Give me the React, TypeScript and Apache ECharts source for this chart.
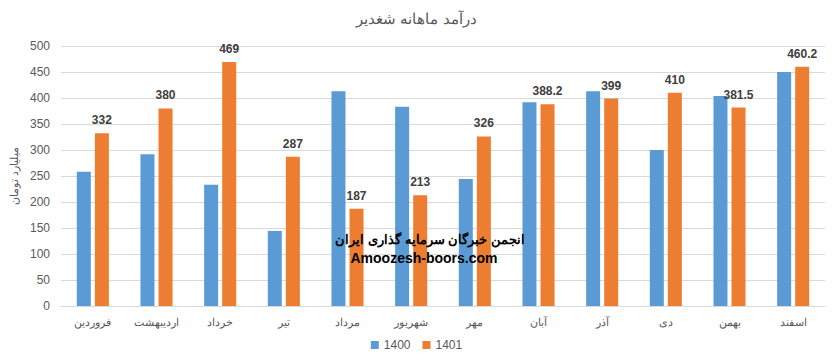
import React, { useEffect, useRef } from "react";
import * as echarts from "echarts";

const months = ["فروردین", "اردیبهشت", "خرداد", "تیر", "مرداد", "شهریور", "مهر", "آبان", "آذر", "دی", "بهمن", "اسفند"];
const values1400 = [258, 292, 233, 144, 413, 383, 244, 392, 413, 300, 404, 450];
const values1401 = [332, 380, 469, 287, 187, 213, 326, 388.2, 399, 410, 381.5, 460.2];
const seriesNames = ["1400", "1401"];
const titleText = "درآمد ماهانه شغدیر";
const yAxisName = "میلیارد تومان";
const watermark1 = "انجمن خبرگان سرمایه گذاری ایران";
const watermark2 = "Amoozesh-boors.com";

const FONT = "'Liberation Sans', Arial, sans-serif";

export default function App() {
  const ref = useRef<HTMLDivElement>(null);
  useEffect(() => {
    if (!ref.current) return;
    const chart = echarts.init(ref.current, null, { renderer: "svg" });
    chart.setOption({
      animation: false,
      textStyle: { fontFamily: FONT },
      title: {
        text: titleText,
        left: "center",
        top: 6,
        textStyle: { fontSize: 15, fontWeight: "normal", color: "#595959", fontFamily: FONT },
      },
      legend: {
        data: seriesNames,
        bottom: 8,
        left: "center",
        itemWidth: 8,
        itemHeight: 8,
        itemGap: 12,
        icon: "rect",
        textStyle: { fontSize: 12, color: "#595959", fontFamily: FONT },
      },
      grid: { left: 61, right: 8, top: 46, bottom: 58 },
      xAxis: {
        type: "category",
        data: months,
        axisLine: { lineStyle: { color: "#d9d9d9" } },
        axisTick: { show: false },
        axisLabel: { color: "#595959", fontSize: 11, margin: 10, fontFamily: FONT },
      },
      yAxis: {
        type: "value",
        min: 0,
        max: 500,
        interval: 50,
        name: yAxisName,
        nameLocation: "middle",
        nameGap: 39,
        nameRotate: 90,
        nameTextStyle: { color: "#595959", fontSize: 11, fontFamily: FONT },
        axisLine: { show: false },
        axisTick: { show: false },
        splitLine: { lineStyle: { color: "#d9d9d9" } },
        axisLabel: { color: "#595959", fontSize: 12, margin: 11, fontFamily: FONT },
      },
      series: [
        {
          name: seriesNames[0],
          type: "bar",
          data: values1400,
          barWidth: 14,
          barGap: "29%",
          itemStyle: { color: "#5B9BD5" },
        },
        {
          name: seriesNames[1],
          type: "bar",
          data: values1401,
          barWidth: 14,
          barGap: "29%",
          itemStyle: { color: "#ED7D31" },
          label: {
            show: true,
            position: "top",
            distance: 7,
            color: "#404040",
            fontWeight: "bold",
            fontSize: 12,
            fontFamily: FONT,
          },
        },
      ],
      graphic: [
        {
          type: "text",
          x: 430,
          y: 233,
          z: 100,
          style: { text: watermark1, font: "bold 13px " + FONT, fill: "#000", align: "center" },
        },
        {
          type: "text",
          x: 424,
          y: 251,
          z: 100,
          style: { text: watermark2, font: "bold 14px " + FONT, fill: "#000", align: "center" },
        },
      ],
    });
    return () => chart.dispose();
  }, []);
  return (
    <div
      ref={ref}
      style={{ position: "fixed", left: 0, top: 0, width: 833, height: 364, background: "#fff" }}
    />
  );
}
